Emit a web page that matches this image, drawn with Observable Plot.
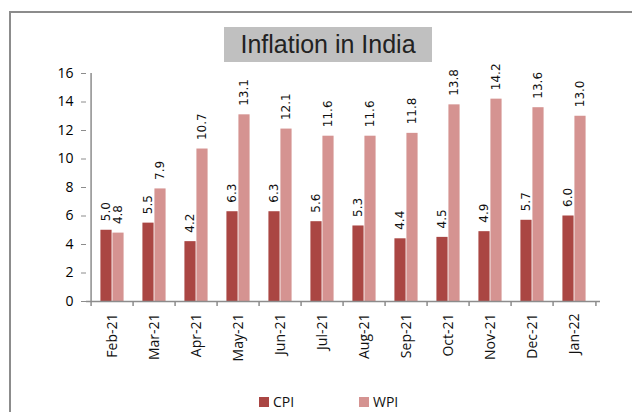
<!DOCTYPE html>
<html>
<head>
<meta charset="utf-8">
<script src="https://cdn.jsdelivr.net/npm/d3@7"></script>
<script src="https://cdn.jsdelivr.net/npm/@observablehq/plot@0.6"></script>
<style>
  html, body { margin: 0; padding: 0; background: #fff; }
  #wrap { position: relative; width: 632px; height: 412px; overflow: hidden; background: #fff; }
  #border { position: absolute; left: 9px; top: 11px; width: 700px; height: 500px; border: 2px solid #8c8c8c; box-sizing: border-box; }
  #title { position: absolute; left: 224px; top: 27px; width: 208px; height: 35px; background: #c0c0c0;
           font-family: "Liberation Sans", sans-serif; font-size: 25px; color: #222; text-align: center; line-height: 35px; }
  #chart { position: absolute; left: 0; top: 0; }
  .leg { position: absolute; top: 395px; font-family: "Open Sans", sans-serif; font-size: 14px; color: #111; line-height: 14px; display: flex; align-items: center; }
  .leg span.sw { display: inline-block; width: 10px; height: 10px; margin-right: 4px; }
</style>
</head>
<body>
<div id="wrap">
  <div id="border"></div>
  <div id="chart"></div>
  <div id="title">Inflation in India</div>
  <div class="leg" style="left:259px"><span class="sw" style="background:#AA4643"></span>CPI</div>
  <div class="leg" style="left:359px"><span class="sw" style="background:#D59391"></span>WPI</div>
</div>
<script>
const months = ["Feb-21","Mar-21","Apr-21","May-21","Jun-21","Jul-21","Aug-21","Sep-21","Oct-21","Nov-21","Dec-21","Jan-22"];
const cpi = [5.0, 5.5, 4.2, 6.3, 6.3, 5.6, 5.3, 4.4, 4.5, 4.9, 5.7, 6.0];
const wpi = [4.8, 7.9, 10.7, 13.1, 12.1, 11.6, 11.6, 11.8, 13.8, 14.2, 13.6, 13.0];
const yTicks = [0, 2, 4, 6, 8, 10, 12, 14, 16];

const cpiData = months.map((m, i) => ({month: m, value: cpi[i]}));
const wpiData = months.map((m, i) => ({month: m, value: wpi[i]}));

const W = 632, H = 412, mL = 86, mR = 32, mT = 73, mB = 111;
const bw = (W - mL - mR) / months.length;
const barW = 12;
const outer = (bw - 2 * barW) / 2;
const axisColor = "#8c8c8c";

const chart = Plot.plot({
  width: W, height: H,
  marginLeft: mL, marginRight: mR, marginTop: mT, marginBottom: mB,
  style: {background: "transparent", color: "#000", overflow: "visible"},
  x: {type: "band", domain: months, padding: 0, axis: null},
  y: {domain: [0, 16], axis: null},
  marks: [
    Plot.barY(cpiData, {x: "month", y: "value", fill: "#AA4643", insetLeft: outer, insetRight: outer + barW}),
    Plot.barY(wpiData, {x: "month", y: "value", fill: "#D59391", insetLeft: outer + barW, insetRight: outer}),
    Plot.ruleY([0], {stroke: axisColor, strokeWidth: 1.5}),
    Plot.ruleX([months[0]], {y1: 0, y2: 16, dx: -bw / 2, stroke: axisColor, strokeWidth: 1.5}),
    Plot.ruleX(months, {y1: 0, y2: -0.35, dx: -bw / 2, stroke: axisColor, strokeWidth: 1.5}),
    Plot.ruleX([months[months.length - 1]], {y1: 0, y2: -0.35, dx: bw / 2, stroke: axisColor, strokeWidth: 1.5}),
    Plot.axisY({ticks: yTicks, label: null, tickSize: 5, tickPadding: 8, stroke: axisColor, fontSize: 14, fontFamily: "Open Sans", tickFormat: d => d}),
    Plot.text(months, {x: d => d, y: 0, dy: 12, rotate: -90, textAnchor: "end", lineAnchor: "middle",
      fontSize: 14, fontFamily: "Open Sans", fill: "#111"}),
    Plot.text(cpiData, {x: "month", y: "value", text: d => d.value.toFixed(1), dx: -barW / 2, dy: -9,
      rotate: -90, textAnchor: "start", lineAnchor: "middle", fontSize: 12, fontFamily: "DejaVu Sans", fill: "#111"}),
    Plot.text(wpiData, {x: "month", y: "value", text: d => d.value.toFixed(1), dx: barW / 2, dy: -9,
      rotate: -90, textAnchor: "start", lineAnchor: "middle", fontSize: 12, fontFamily: "DejaVu Sans", fill: "#111"})
  ]
});
document.getElementById("chart").appendChild(chart);
</script>
</body>
</html>
